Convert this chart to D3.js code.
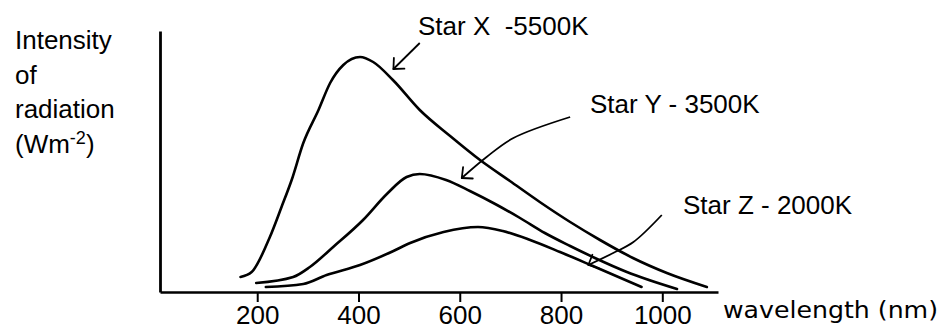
<!DOCTYPE html>
<html>
<head>
<meta charset="utf-8">
<script src="https://cdn.jsdelivr.net/npm/d3@7"></script>
<style>
  body { margin: 0; background: #fff; }
  svg { display: block; }
  text { font-family: "Liberation Sans", Arial, sans-serif; fill: #000; }
</style>
</head>
<body>
<div id="chart"></div>
<script>
// wavelength (nm) and intensity (arbitrary units)
var starXnm  = [167, 189, 225, 248, 268, 291, 321, 344, 370, 403, 429, 468, 521, 581, 640, 699, 758, 818, 877, 942, 1009, 1088];
var starXval = [15, 20, 55, 85, 112, 149, 182, 209, 227, 235, 230, 212, 182, 156, 132, 111, 90, 70, 52, 34, 19, 5];

var starYnm  = [198, 271, 304, 350, 409, 456, 495, 521, 573, 620, 670, 719, 768, 818, 867, 930, 1029];
var starYval = [9, 15, 25, 45, 72, 98, 115, 118, 112, 101, 88, 74, 59, 46, 34, 20, 3];

var starZnm  = [217, 291, 337, 403, 469, 502, 568, 636, 685, 739, 798, 863, 959];
var starZval = [5, 8, 17, 27, 41, 49, 60, 65, 61, 52, 40, 26, 5];

var tickValues = [200, 400, 600, 800, 1000];
var starLabels = ["Star X  -5500K", "Star Y - 3500K", "Star Z - 2000K"];
var yLabelLines = ["Intensity", "of", "radiation"];

// arrow paths (start -> tip) in data units
var arrowXnm = [521, 469];
var arrowXval = [249, 223];
var arrowYnm = [818, 706, 653, 604];
var arrowYval = [175, 154, 135, 114];
var arrowZnm = [999, 943, 903, 854];
var arrowZval = [77, 50, 39, 27];

var width = 949, height = 334;

var svg = d3.select("#chart").append("svg")
	.attr("width", width)
	.attr("height", height);

var x = d3.scaleLinear().domain([8, 1110]).range([160, 718]);
var y = d3.scaleLinear().domain([0, 261]).range([292, 31]);

function zip(a, b) {
	return a.map(function(d, i) { return [d, b[i]]; });
}

var line = d3.line()
	.x(function(d) { return x(d[0]); })
	.y(function(d) { return y(d[1]); })
	.curve(d3.curveMonotoneX);

var arrowLine = d3.line()
	.x(function(d) { return x(d[0]); })
	.y(function(d) { return y(d[1]); })
	.curve(d3.curveCatmullRom.alpha(0.5));

// axes
var xAxis = svg.append("g")
	.attr("transform", "translate(0," + y(0) + ")")
	.call(d3.axisBottom(x).tickValues(tickValues).tickFormat(d3.format("d"))
		.tickSize(10).tickSizeOuter(0).tickPadding(4));
xAxis.select(".domain").attr("stroke-width", 2.6);
xAxis.selectAll(".tick line").attr("stroke-width", 2);
xAxis.selectAll(".tick text")
	.style("font-family", '"Liberation Sans", Arial, sans-serif')
	.style("font-size", "26px");

var yAxis = svg.append("g")
	.attr("transform", "translate(" + x(8) + ",0)")
	.call(d3.axisLeft(y).tickValues([]).tickSizeOuter(0));
yAxis.select(".domain").attr("stroke-width", 2.8);

// curves
[zip(starXnm, starXval), zip(starYnm, starYval), zip(starZnm, starZval)].forEach(function(pts) {
	svg.append("path")
		.datum(pts)
		.attr("fill", "none")
		.attr("stroke", "#000")
		.attr("stroke-width", 2.6)
		.attr("stroke-linecap", "round")
		.attr("d", line);
});

// arrows
function drawArrow(pts) {
	svg.append("path")
		.datum(pts)
		.attr("fill", "none")
		.attr("stroke", "#000")
		.attr("stroke-width", 1.8)
		.attr("d", arrowLine);
	var n = pts.length;
	var tx = x(pts[n - 1][0]), ty = y(pts[n - 1][1]);
	var px = x(pts[n - 2][0]), py = y(pts[n - 2][1]);
	var ang = Math.atan2(py - ty, px - tx);
	[-0.75, 0.75].forEach(function(da) {
		svg.append("line")
			.attr("x1", tx).attr("y1", ty)
			.attr("x2", tx + 11 * Math.cos(ang + da))
			.attr("y2", ty + 11 * Math.sin(ang + da))
			.attr("stroke", "#000")
			.attr("stroke-width", 1.8)
			.attr("stroke-linecap", "round");
	});
}
drawArrow(zip(arrowXnm, arrowXval));
drawArrow(zip(arrowYnm, arrowYval));
drawArrow(zip(arrowZnm, arrowZval));

// star labels
var labelPos = [[418, 35], [590, 113], [683, 214]];
starLabels.forEach(function(t, i) {
	svg.append("text")
		.attr("x", labelPos[i][0])
		.attr("y", labelPos[i][1])
		.attr("xml:space", "preserve")
		.style("white-space", "pre")
		.style("font-size", "26px")
		.text(t);
});

// y label
yLabelLines.forEach(function(t, i) {
	svg.append("text")
		.attr("x", 15)
		.attr("y", 49 + i * 34.6)
		.style("font-size", "26px")
		.text(t);
});
var unit = svg.append("text")
	.attr("x", 15)
	.attr("y", 153)
	.style("font-size", "26px");
unit.append("tspan").text("(Wm");
unit.append("tspan").attr("dy", -9).style("font-size", "18px").text("-2");
unit.append("tspan").attr("dy", 9).text(")");

// x label
svg.append("text")
	.attr("x", 723)
	.attr("y", 318)
	.attr("textLength", 215)
	.attr("lengthAdjust", "spacingAndGlyphs")
	.style("font-family", '"Comic Sans MS", "DejaVu Sans", sans-serif')
	.style("font-size", "23px")
	.text("wavelength (nm)");
</script>
</body>
</html>
